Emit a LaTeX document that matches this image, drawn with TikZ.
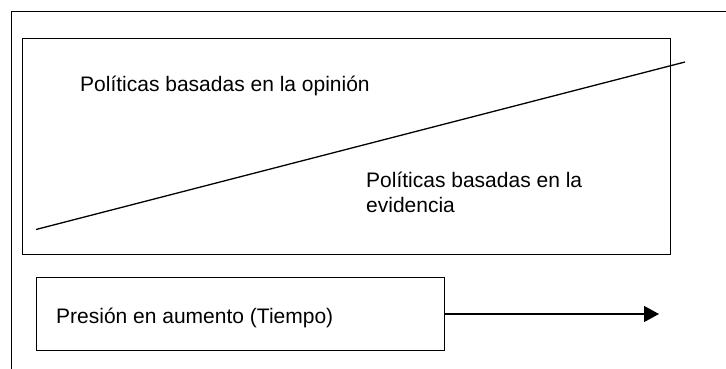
\documentclass[tikz,border=0pt]{standalone}
\usepackage{fontspec}
\setmainfont{Liberation Sans}
\usetikzlibrary{arrows.meta}
\begin{document}
\begin{tikzpicture}[x=1pt,y=-1pt,
  frame/.style={draw=black,line width=1pt},
  boxline/.style={draw=black,line width=1.3pt},
  lbl/.style={inner sep=0pt,anchor=base west,font=\fontsize{21}{25}\selectfont,align=left}]
\useasboundingbox (0,0) rectangle (726,369);
\clip (0,0) rectangle (726,369);
% outer frame
\coordinate (otl) at (11,12);
\coordinate (obl) at (11,372);
\coordinate (otr) at (730,12);
\draw[frame] (obl) -- (otl) -- (otr);
% upper box
\node[boxline,inner sep=0pt,minimum width=648pt,minimum height=216pt,anchor=north west] (upper) at (22,38) {};
\coordinate (ls) at (36,229.5);
\coordinate (le) at (685,62);
\draw[line width=1.3pt] (ls) -- (le);
\node[lbl] (opinion) at (80,92) {Políticas basadas en la opinión};
\node[lbl] (evidencia) at (366,212) {Políticas basadas en la\\evidencia};
% lower box
\node[boxline,inner sep=0pt,minimum width=408pt,minimum height=73pt,anchor=north west] (lower) at (36,277) {};
\node[lbl] (presion) at (56,323) {Presión en aumento (Tiempo)};
\coordinate (arrowend) at (659,314);
\draw[line width=1.3pt,-{Triangle[length=15pt,width=16pt]}] (lower.east |- arrowend) -- (arrowend);
\end{tikzpicture}
\end{document}
